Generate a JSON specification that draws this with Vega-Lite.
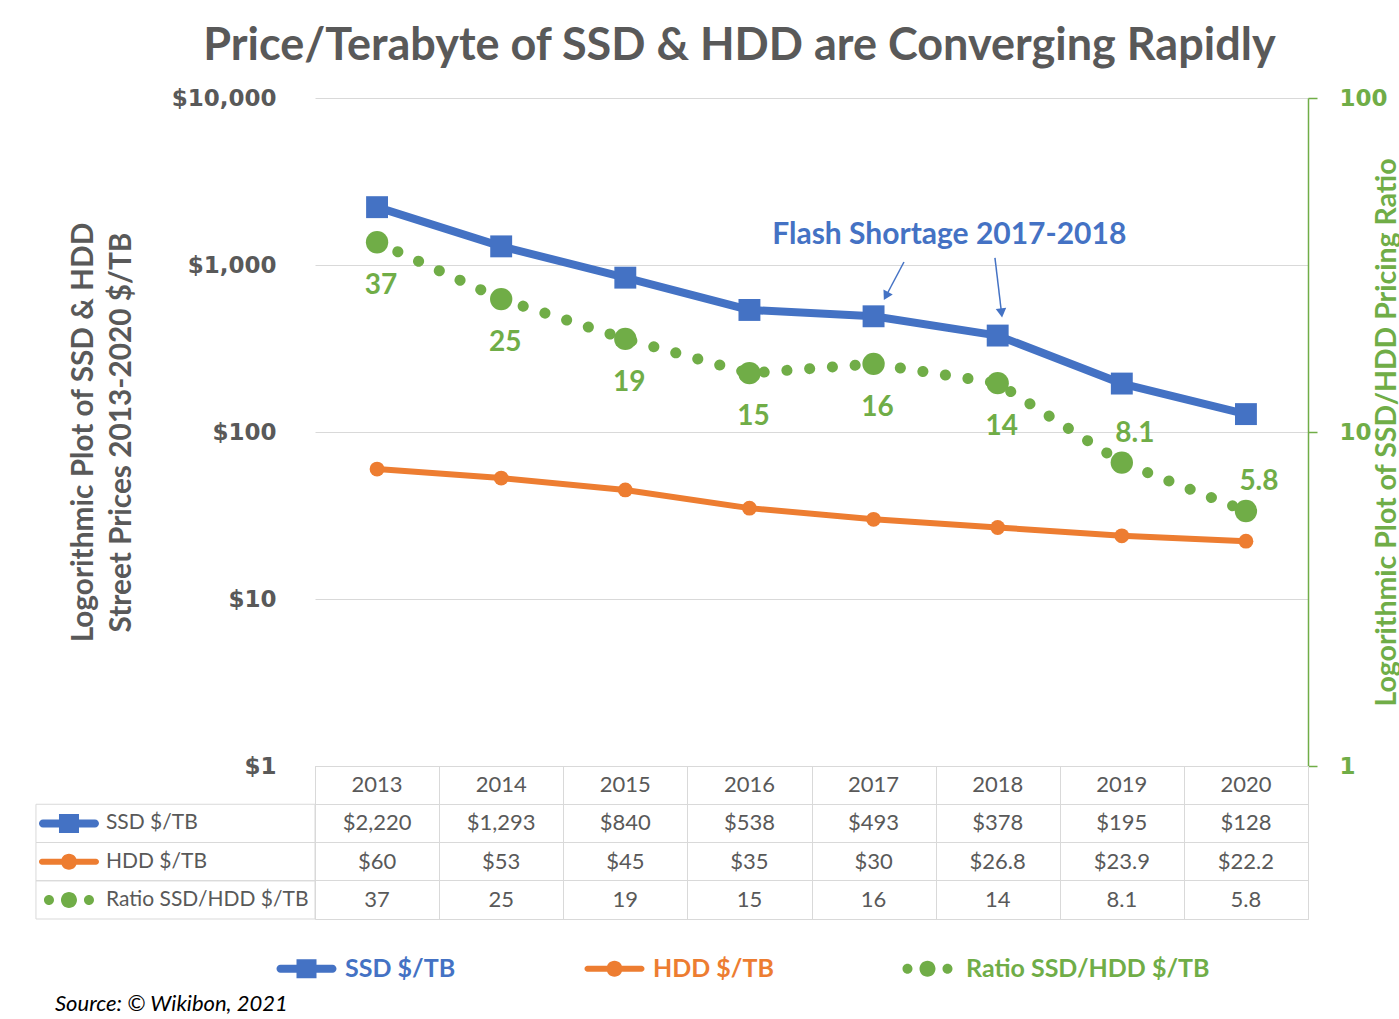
{
  "$schema": "https://vega.github.io/schema/vega-lite/v6.json",
  "padding": {"left": 34, "top": 24, "right": 0, "bottom": 4},
  "background": "white",
  "spacing": 0,
  "bounds": "flush",
  "title": {"text": "Source: © Wikibon, 2021", "orient": "bottom", "anchor": "start", "frame": "bounds", "dx": 20, "offset": 12, "font": "Lato", "fontSize": 22, "fontStyle": "italic", "fontWeight": "normal", "color": "#000000"},
  "datasets": {
    "main": [
      {"year": 2013, "ssd": 2220, "hdd": 60, "ratio": 37},
      {"year": 2014, "ssd": 1293, "hdd": 53, "ratio": 25},
      {"year": 2015, "ssd": 840, "hdd": 45, "ratio": 19},
      {"year": 2016, "ssd": 538, "hdd": 35, "ratio": 15},
      {"year": 2017, "ssd": 493, "hdd": 30, "ratio": 16},
      {"year": 2018, "ssd": 378, "hdd": 26.8, "ratio": 14},
      {"year": 2019, "ssd": 195, "hdd": 23.9, "ratio": 8.1},
      {"year": 2020, "ssd": 128, "hdd": 22.2, "ratio": 5.8}
    ],
    "notes": [{"year": 2017.61, "price": 1513, "label": "Flash Shortage 2017-2018"}],
    "arrows": [
      {"id": 1, "year": 2017.245, "price": 1042, "year2": 2017.1, "price2": 652},
      {"id": 2, "year": 2017.978, "price": 1102, "year2": 2018.031, "price2": 516}
    ],
    "rows": [{"row": "SSD $/TB"}, {"row": "HDD $/TB"}, {"row": "Ratio SSD/HDD $/TB"}]
  },
  "vconcat": [
    {
      "width": 993,
      "height": 668,
      "title": {"text": "Price/Terabyte of SSD & HDD are Converging Rapidly", "anchor": "middle", "dx": -72, "font": "Lato", "fontSize": 45, "fontWeight": "bold", "color": "#595959", "offset": 18},
      "layer": [
        {
          "layer": [
            {
              "data": {"name": "main"},
              "mark": {"type": "line", "strokeWidth": 8, "point": {"shape": "square", "size": 480, "filled": true, "opacity": 1}},
              "encoding": {
                "x": {"field": "year", "type": "quantitative", "scale": {"domain": [2012.5, 2020.5], "nice": false, "zero": false}, "axis": null},
                "y": {"field": "ssd", "type": "quantitative", "scale": {"type": "log", "domain": [1, 10000], "nice": false},
                  "axis": {"orient": "left", "values": [1, 10, 100, 1000, 10000], "format": "$,.0f", "grid": true, "gridColor": "#D9D9D9", "gridWidth": 1, "domain": false, "ticks": false, "labelFont": "DejaVu Sans", "labelFontWeight": "bold", "labelFontSize": 23, "labelColor": "#595959", "labelPadding": 39,
                    "title": ["Logorithmic Plot of SSD & HDD", "Street Prices 2013-2020 $/TB"], "titleFont": "Lato", "titleFontSize": 29.8, "titleFontWeight": "bold", "titleColor": "#595959", "titlePadding": 35, "titleLineHeight": 38}},
                "color": {"datum": "SSD $/TB", "type": "nominal",
                  "scale": {"domain": ["SSD $/TB", "HDD $/TB", "Ratio SSD/HDD $/TB"], "range": ["#4472C4", "#ED7D31", "#70AD47"]},
                  "legend": {"title": null, "labelColor": {"expr": "datum.value == 'SSD $/TB' ? '#4472C4' : datum.value == 'HDD $/TB' ? '#ED7D31' : '#70AD47'"}}}
              }
            },
            {
              "data": {"name": "main"},
              "mark": {"type": "line", "strokeWidth": 6, "point": {"shape": "circle", "size": 220, "filled": true, "opacity": 1}},
              "encoding": {
                "x": {"field": "year", "type": "quantitative", "axis": null},
                "y": {"field": "hdd", "type": "quantitative"},
                "color": {"datum": "HDD $/TB", "type": "nominal"}
              }
            },
            {
              "data": {"name": "notes"},
              "mark": {"type": "text", "font": "Lato", "fontSize": 30, "fontWeight": "bold", "color": "#4472C4", "baseline": "middle", "align": "center"},
              "encoding": {
                "x": {"field": "year", "type": "quantitative", "axis": null},
                "y": {"field": "price", "type": "quantitative"},
                "text": {"field": "label"}
              }
            },
            {
              "data": {"name": "arrows"},
              "mark": {"type": "rule", "color": "#4472C4", "strokeWidth": 1.5},
              "encoding": {
                "x": {"field": "year", "type": "quantitative", "axis": null},
                "y": {"field": "price", "type": "quantitative"},
                "x2": {"field": "year2"},
                "y2": {"field": "price2"}
              }
            },
            {
              "data": {"name": "arrows"},
              "transform": [{"filter": "datum.id == 1"}],
              "mark": {"type": "point", "shape": "triangle-down", "size": 110, "filled": true, "opacity": 1, "color": "#4472C4", "angle": 28},
              "encoding": {
                "x": {"field": "year2", "type": "quantitative", "axis": null},
                "y": {"field": "price2", "type": "quantitative"}
              }
            },
            {
              "data": {"name": "arrows"},
              "transform": [{"filter": "datum.id == 2"}],
              "mark": {"type": "point", "shape": "triangle-down", "size": 110, "filled": true, "opacity": 1, "color": "#4472C4", "angle": -7},
              "encoding": {
                "x": {"field": "year2", "type": "quantitative", "axis": null},
                "y": {"field": "price2", "type": "quantitative"}
              }
            }
          ]
        },
        {
          "layer": [
            {
              "data": {"name": "main"},
              "mark": {"type": "line", "strokeWidth": 11, "strokeDash": [0.1, 22.7], "strokeCap": "round"},
              "encoding": {
                "x": {"field": "year", "type": "quantitative", "axis": null},
                "y": {"field": "ratio", "type": "quantitative", "scale": {"type": "log", "domain": [1, 100], "nice": false},
                  "axis": {"orient": "right", "values": [1, 10, 100], "format": "d", "grid": false, "domain": true, "domainColor": "#70AD47", "domainWidth": 1.5, "ticks": true, "tickColor": "#70AD47", "tickSize": 9, "tickWidth": 1.5, "labelFont": "DejaVu Sans", "labelFontWeight": "bold", "labelFontSize": 23, "labelColor": "#70AD47", "labelPadding": 22,
                    "title": "Logorithmic Plot of SSD/HDD Pricing Ratio", "titleAngle": 270, "titleFont": "Lato", "titleFontSize": 28.5, "titleFontWeight": "bold", "titleColor": "#70AD47", "titlePadding": 14}},
                "color": {"datum": "Ratio SSD/HDD $/TB", "type": "nominal"}
              }
            },
            {
              "data": {"name": "main"},
              "mark": {"type": "point", "shape": "circle", "size": 500, "filled": true, "opacity": 1},
              "encoding": {
                "x": {"field": "year", "type": "quantitative", "axis": null},
                "y": {"field": "ratio", "type": "quantitative"},
                "color": {"datum": "Ratio SSD/HDD $/TB", "type": "nominal"}
              }
            },
            {
              "data": {"name": "main"},
              "transform": [{"filter": "datum.year <= 2018"}],
              "mark": {"type": "text", "font": "Lato", "fontSize": 28, "fontWeight": "bold", "color": "#70AD47", "baseline": "middle", "align": "center", "dx": 4, "dy": 44},
              "encoding": {
                "x": {"field": "year", "type": "quantitative", "axis": null},
                "y": {"field": "ratio", "type": "quantitative"},
                "text": {"field": "ratio", "type": "quantitative", "format": ".2~g"}
              }
            },
            {
              "data": {"name": "main"},
              "transform": [{"filter": "datum.year >= 2019"}],
              "mark": {"type": "text", "font": "Lato", "fontSize": 28, "fontWeight": "bold", "color": "#70AD47", "baseline": "middle", "align": "center", "dx": 13, "dy": -29},
              "encoding": {
                "x": {"field": "year", "type": "quantitative", "axis": null},
                "y": {"field": "ratio", "type": "quantitative"},
                "text": {"field": "ratio", "type": "quantitative", "format": ".2~g"}
              }
            }
          ]
        }
      ],
      "resolve": {"scale": {"y": "independent"}}
    },
    {
      "width": 993,
      "height": 153,
      "view": {"stroke": "#D9D9D9", "strokeWidth": 1},
      "layer": [
        {
          "data": {"name": "rows"},
          "mark": {"type": "rect", "filled": false, "color": "#D9D9D9", "strokeWidth": 1},
          "encoding": {
            "x": {"datum": 2010.252, "type": "quantitative", "scale": {"domain": [2012.5, 2020.5], "nice": false, "zero": false},
              "axis": {"values": [2012.5, 2013.5, 2014.5, 2015.5, 2016.5, 2017.5, 2018.5, 2019.5, 2020.5], "grid": true, "gridColor": "#D9D9D9", "gridWidth": 1, "labels": false, "ticks": false, "domain": false, "title": null}},
            "x2": {"datum": 2012.5},
            "y": {"field": "row", "type": "nominal", "scale": {"domain": ["Year", "SSD $/TB", "HDD $/TB", "Ratio SSD/HDD $/TB"], "paddingInner": 0, "paddingOuter": 0},
              "axis": {"grid": true, "bandPosition": 0, "gridColor": "#D9D9D9", "gridWidth": 1, "labels": false, "ticks": false, "domain": false, "title": null}}
          }
        },
        {
          "data": {"name": "rows"},
          "mark": {"type": "point", "filled": true, "opacity": 1, "size": 400, "strokeWidth": 0},
          "encoding": {
            "x": {"datum": 2010.518, "type": "quantitative"},
            "y": {"field": "row", "type": "nominal"},
            "color": {"field": "row", "type": "nominal", "legend": {"title": null}},
            "shape": {"field": "row", "type": "nominal", "legend": {"title": null},
              "scale": {"domain": ["SSD $/TB", "HDD $/TB", "Ratio SSD/HDD $/TB"],
                "range": [
                  "M-2.6,-0.4H2.6A0.4,0.4 0 0,1 2.6,0.4H-2.6A0.4,0.4 0 0,1 -2.6,-0.4Z M-1,-0.95H1V0.95H-1Z",
                  "M-2.7,-0.3H2.7A0.3,0.3 0 0,1 2.7,0.3H-2.7A0.3,0.3 0 0,1 -2.7,-0.3Z M-0.8,0A0.8,0.8 0 1,1 0.8,0A0.8,0.8 0 1,1 -0.8,0Z",
                  "M-2.5,0A0.5,0.5 0 1,1 -1.5,0A0.5,0.5 0 1,1 -2.5,0Z M-0.8,0A0.8,0.8 0 1,1 0.8,0A0.8,0.8 0 1,1 -0.8,0Z M1.5,0A0.5,0.5 0 1,1 2.5,0A0.5,0.5 0 1,1 1.5,0Z"
                ]}}
          }
        },
        {
          "data": {"name": "rows"},
          "mark": {"type": "text", "font": "Lato", "fontSize": 21, "color": "#595959", "align": "left", "baseline": "middle"},
          "encoding": {
            "x": {"datum": 2010.816, "type": "quantitative"},
            "y": {"field": "row", "type": "nominal"},
            "text": {"field": "row"}
          }
        },
        {
          "data": {"name": "main"},
          "mark": {"type": "text", "font": "Lato", "fontSize": 22, "color": "#595959", "baseline": "middle"},
          "encoding": {
            "x": {"field": "year", "type": "quantitative"},
            "y": {"datum": "Year", "type": "nominal"},
            "text": {"field": "year", "type": "quantitative", "format": "d"}
          }
        },
        {
          "data": {"name": "main"},
          "mark": {"type": "text", "font": "Lato", "fontSize": 22, "color": "#595959", "baseline": "middle"},
          "encoding": {
            "x": {"field": "year", "type": "quantitative"},
            "y": {"datum": "SSD $/TB", "type": "nominal"},
            "text": {"field": "ssd", "type": "quantitative", "format": "$,.0f"}
          }
        },
        {
          "data": {"name": "main"},
          "mark": {"type": "text", "font": "Lato", "fontSize": 22, "color": "#595959", "baseline": "middle"},
          "encoding": {
            "x": {"field": "year", "type": "quantitative"},
            "y": {"datum": "HDD $/TB", "type": "nominal"},
            "text": {"field": "hdd", "type": "quantitative", "format": "$.3~g"}
          }
        },
        {
          "data": {"name": "main"},
          "mark": {"type": "text", "font": "Lato", "fontSize": 22, "color": "#595959", "baseline": "middle"},
          "encoding": {
            "x": {"field": "year", "type": "quantitative"},
            "y": {"datum": "Ratio SSD/HDD $/TB", "type": "nominal"},
            "text": {"field": "ratio", "type": "quantitative", "format": ".2~g"}
          }
        }
      ]
    }
  ],
  "config": {
    "view": {"stroke": null},
    "font": "Lato",
    "legend": {"orient": "none", "legendX": -21, "legendY": 858, "direction": "horizontal", "symbolSize": 400, "labelOffset": 26, "columnPadding": 128, "labelFont": "Lato", "labelFontSize": 25, "labelFontWeight": "bold", "labelLimit": 400, "symbolStrokeWidth": 0, "symbolOpacity": 1}
  }
}
